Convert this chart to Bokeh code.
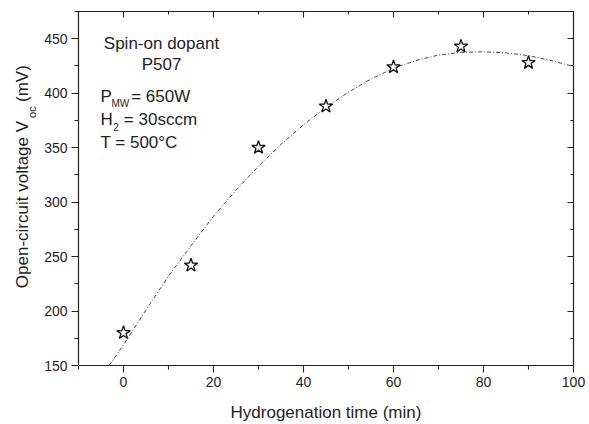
from bokeh.plotting import figure
from bokeh.models import Label, LinearAxis, FixedTicker, Range1d
from bokeh.embed import file_html
from bokeh.resources import INLINE

# ---- data ----
time_min = [0, 15, 30, 45, 60, 75, 90]
voc_mv = [180, 242, 350, 388, 424, 443, 428]

fit_time = [-3.2, 0, 5, 10, 15, 20, 25, 30, 35, 40, 45, 50, 55, 60, 65, 70,
            75, 80, 85, 90, 95, 100]
fit_voc = [150, 169, 201, 232, 260, 287, 311, 333, 353, 371, 387, 401, 413,
           423, 430, 435, 437.5, 438, 437, 434.5, 430, 424.5]

x_ticks = [0, 20, 40, 60, 80, 100]
x_minor = [-10, 10, 30, 50, 70, 90]
y_ticks = [150, 200, 250, 300, 350, 400, 450]
y_minor = [175, 225, 275, 325, 375, 425, 475]

FONT = "Liberation Sans"
TXT = "#1e1e1e"
NB = "\u00a0"

p = figure(width=589, height=424, output_backend="svg", toolbar_location=None,
           x_range=Range1d(-10, 100), y_range=Range1d(150, 475),
           min_border_left=78, min_border_right=16, min_border_top=11,
           min_border_bottom=57, outline_line_color=None,
           background_fill_color="white", border_fill_color="white")
p.xgrid.visible = False
p.ygrid.visible = False


def style_axis(ax, inside, labels):
    ax.axis_line_color = "#222222"
    ax.axis_line_width = 1.2
    ax.major_tick_line_color = "#222222"
    ax.minor_tick_line_color = "#222222"
    ax.major_tick_line_width = 1.1
    ax.minor_tick_line_width = 1.1
    if inside:
        ax.major_tick_in, ax.major_tick_out = 6, 0
        ax.minor_tick_in, ax.minor_tick_out = 3, 0
    else:
        ax.major_tick_in, ax.major_tick_out = 0, 7
        ax.minor_tick_in, ax.minor_tick_out = 0, 4
    if labels:
        ax.major_label_text_font = FONT
        ax.major_label_text_font_size = "14px"
        ax.major_label_text_color = TXT
        ax.major_label_standoff = 4
    else:
        ax.major_label_text_font_size = "1px"
        ax.major_label_text_color = None
        ax.major_label_standoff = 0
    ax.axis_label_text_font = FONT
    ax.axis_label_text_font_size = "17px"
    ax.axis_label_text_font_style = "normal"
    ax.axis_label_text_color = TXT


p.xaxis[0].ticker = FixedTicker(ticks=x_ticks, minor_ticks=x_minor)
p.yaxis[0].ticker = FixedTicker(ticks=y_ticks, minor_ticks=y_minor)
style_axis(p.xaxis[0], False, True)
style_axis(p.yaxis[0], False, True)
p.xaxis[0].axis_label = "Hydrogenation time (min)"
p.xaxis[0].axis_label_standoff = 13

# inner left axis carries the subscript of the y title
p.yaxis[0].axis_label = NB * 50 + "oc"
p.yaxis[0].axis_label_text_font_size = "11px"
p.yaxis[0].axis_label_standoff = 3

# outer left axis: only the main y title
outer = LinearAxis(ticker=FixedTicker(ticks=y_ticks, minor_ticks=y_minor))
style_axis(outer, False, False)
outer.axis_line_color = None
outer.major_tick_line_color = None
outer.minor_tick_line_color = None
outer.major_tick_out = 0
outer.minor_tick_out = 0
outer.axis_label = NB * 5 + "Open-circuit voltage V" + NB * 4 + "(mV)"
outer.axis_label_standoff = -8
p.add_layout(outer, "left")

top = LinearAxis(ticker=FixedTicker(ticks=x_ticks, minor_ticks=x_minor))
style_axis(top, True, False)
p.add_layout(top, "above")
right = LinearAxis(ticker=FixedTicker(ticks=y_ticks, minor_ticks=y_minor))
style_axis(right, True, False)
p.add_layout(right, "right")

# fit curve and data
p.line(fit_time, fit_voc, line_color="#333333", line_width=0.9, line_dash="4 2 1 2")
p.scatter(time_min, voc_mv, marker="star", size=14, fill_color="white",
          line_color="#111111", line_width=1.3)


def lab(x, y, text, size="17px", align="left"):
    p.add_layout(Label(x=x, y=y, text=text, text_font=FONT,
                       text_font_size=size, text_align=align,
                       text_baseline="alphabetic", text_color=TXT))


# annotation block
lab(8.44, 445.5, "Spin-on dopant", align="center")
lab(8.44, 426.3, "P507", align="center")
lab(-5.11, 397.4, "P")
lab(-2.67, 390.7, "MW", size="10px")
lab(1.71, 397.4, "= 650W")
lab(-5.11, 375.5, "H")
lab(-2.29, 369.4, "2", size="10px")
lab(0.07, 375.5, "= 30sccm")
lab(-5.11, 355.1, "T = 500°C")

open("out.html", "w").write(file_html(p, INLINE))
